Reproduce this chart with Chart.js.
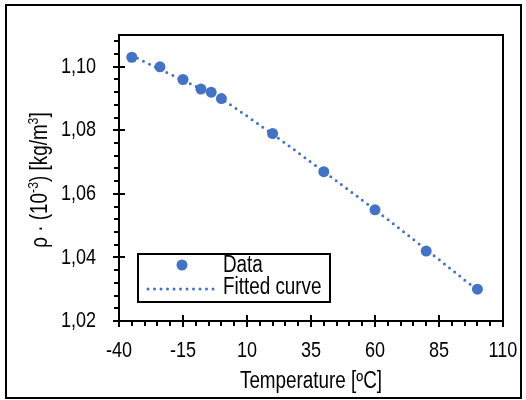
<!DOCTYPE html>
<html>
<head>
<meta charset="utf-8">
<script src="https://cdn.jsdelivr.net/npm/chart.js@4"></script>
<style>
  html, body { margin: 0; padding: 0; background: #fff; }
  canvas { display: block; }
</style>
</head>
<body>
<canvas id="density-chart" width="526" height="400"></canvas>
<script>
const dataX = [-35, -24, -15, -8, -4, 0, 20, 40, 60, 80, 100]
const dataY = [1.103, 1.100, 1.096, 1.093, 1.092, 1.090, 1.079, 1.067, 1.055, 1.042, 1.030]

const fitX = [-35, -25, -15, 0, 20, 40, 60, 80, 100]
const fitY = [1.1035, 1.0996, 1.0957, 1.0898, 1.0788, 1.0670, 1.0550, 1.0425, 1.0297]

const xTicks = [-40, -15, 10, 35, 60, 85, 110]
const yTicks = [1.02, 1.04, 1.06, 1.08, 1.10]

const blue = '#4472C4'
const fontFamily = "'Liberation Sans', Arial, sans-serif"
const narrow = 0.82  // the original uses a narrow Arial, squeeze the text to match

function narrowText(ctx, text, x, y, align, size) {
    ctx.save()
    ctx.font = size + 'px ' + fontFamily
    ctx.translate(x, y)
    ctx.scale(narrow, 1)
    ctx.textAlign = align
    ctx.textBaseline = 'middle'
    ctx.fillText(text, 0, 0)
    ctx.restore()
}

// frame, axis box, crossing ticks, labels and the legend inside the plot
const framePlugin = {
    id: 'frame',
    beforeDraw(chart) {
        const ctx = chart.ctx
        ctx.save()
        ctx.fillStyle = '#fff'
        ctx.fillRect(0, 0, chart.width, chart.height)
        ctx.strokeStyle = '#000'
        ctx.lineWidth = 2
        ctx.strokeRect(6, 5, 515, 393)
        ctx.restore()
    },
    afterDraw(chart) {
        const ctx = chart.ctx
        const area = chart.chartArea
        const xs = chart.scales.x
        const ys = chart.scales.y
        ctx.save()
        ctx.strokeStyle = '#000'
        ctx.lineWidth = 2
        ctx.strokeRect(area.left, area.top, area.right - area.left, area.bottom - area.top)

        ctx.beginPath()
        for (let v = -40; v <= 110; v += 5) {
            const px = Math.round(xs.getPixelForValue(v))
            const major = (v + 40) % 25 === 0
            ctx.moveTo(px, area.bottom - (major ? 6 : 0))
            ctx.lineTo(px, area.bottom + (major ? 6 : 5))
        }
        for (let i = 0; i <= 22; i++) {
            const v = 1.02 + i * 0.004
            const py = Math.round(ys.getPixelForValue(v))
            const major = i % 5 === 0
            ctx.moveTo(area.left - (major ? 6 : 5), py)
            ctx.lineTo(area.left + (major ? 6 : 0), py)
        }
        ctx.stroke()

        // tick labels
        ctx.fillStyle = '#000'
        xTicks.forEach(v => narrowText(ctx, String(v), xs.getPixelForValue(v), 351, 'center', 22))
        yTicks.forEach(v => narrowText(ctx, v.toFixed(2).replace('.', ','), 96, ys.getPixelForValue(v), 'right', 22))

        // axis titles
        narrowText(ctx, 'Temperature [ºC]', (area.left + area.right) / 2, 382, 'center', 23)

        const parts = [['ρ · (10', 0], ['-3', 1], [') [kg/m', 0], ['3', 1], [']', 0]]
        ctx.save()
        ctx.translate(41, (area.top + area.bottom) / 2 + 2)
        ctx.rotate(-Math.PI / 2)
        ctx.scale(narrow, 1)
        ctx.textBaseline = 'middle'
        ctx.textAlign = 'left'
        let total = 0
        parts.forEach(p => {
            ctx.font = (p[1] ? 15 : 23) + 'px ' + fontFamily
            total += ctx.measureText(p[0]).width
        })
        let cx = -total / 2
        parts.forEach(p => {
            ctx.font = (p[1] ? 15 : 23) + 'px ' + fontFamily
            ctx.fillText(p[0], cx, p[1] ? -7 : 0)
            cx += ctx.measureText(p[0]).width
        })
        ctx.restore()

        // legend
        ctx.fillStyle = '#fff'
        ctx.fillRect(138, 254, 192, 48)
        ctx.strokeRect(138, 254, 192, 48)
        ctx.fillStyle = blue
        ctx.beginPath()
        ctx.arc(182, 265, 5.5, 0, Math.PI * 2)
        ctx.fill()
        ctx.strokeStyle = blue
        ctx.lineWidth = 3
        ctx.lineCap = 'round'
        ctx.setLineDash([0, 6.5])
        ctx.beginPath()
        ctx.moveTo(148, 289)
        ctx.lineTo(214, 289)
        ctx.stroke()
        ctx.setLineDash([])
        ctx.fillStyle = '#000'
        narrowText(ctx, 'Data', 223, 266, 'left', 23)
        narrowText(ctx, 'Fitted curve', 223, 288, 'left', 23)
        ctx.restore()
    }
}

const config = {
    type: 'scatter',
    data: {
        datasets: [
            {
                label: 'Data',
                data: dataX.map((x, i) => ({ x: x, y: dataY[i] })),
                pointRadius: 5.5,
                pointBackgroundColor: blue,
                pointBorderWidth: 0,
                showLine: false,
                order: 0
            },
            {
                label: 'Fitted curve',
                data: fitX.map((x, i) => ({ x: x, y: fitY[i] })),
                showLine: true,
                pointRadius: 0,
                borderColor: blue,
                borderWidth: 3,
                borderDash: [0, 6.5],
                borderCapStyle: 'round',
                tension: 0.3,
                order: 1
            }
        ]
    },
    options: {
        responsive: false,
        animation: false,
        layout: { padding: { top: 35, right: 23, left: 0, bottom: 0 } },
        plugins: {
            legend: { display: false },
            tooltip: { enabled: false }
        },
        scales: {
            x: {
                type: 'linear',
                min: -40,
                max: 110,
                afterBuildTicks: (scale) => { scale.ticks = xTicks.map(v => ({ value: v })) },
                afterFit: (scale) => {
                    scale.height = 79
                    scale.paddingLeft = 0
                    scale.paddingRight = 0
                },
                grid: { display: false, drawTicks: false },
                border: { display: false },
                ticks: { display: false }
            },
            y: {
                type: 'linear',
                min: 1.02,
                max: 1.11,
                afterBuildTicks: (scale) => { scale.ticks = yTicks.map(v => ({ value: v })) },
                afterFit: (scale) => {
                    scale.width = 119
                    scale.paddingTop = 0
                    scale.paddingBottom = 0
                },
                grid: { display: false, drawTicks: false },
                border: { display: false },
                ticks: { display: false }
            }
        }
    },
    plugins: [framePlugin]
}

new Chart(document.getElementById('density-chart'), config)
</script>
</body>
</html>
